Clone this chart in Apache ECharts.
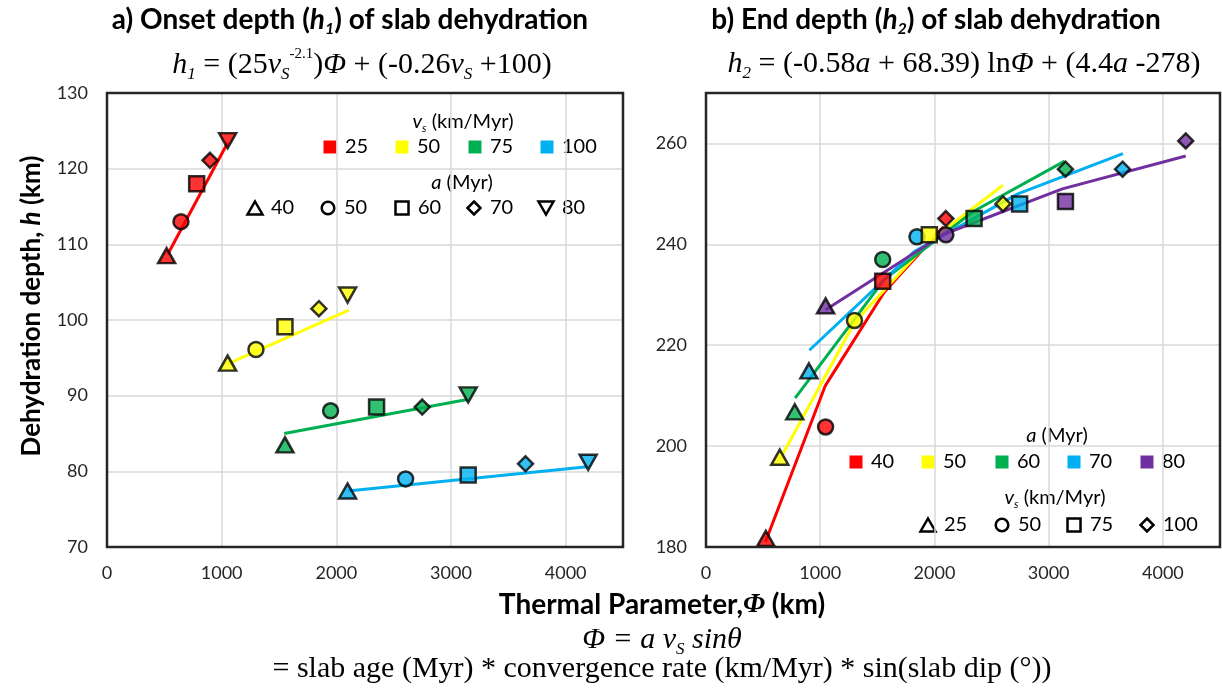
<!DOCTYPE html>
<html><head><meta charset="utf-8">
<script src="https://cdn.jsdelivr.net/npm/echarts@6/dist/echarts.min.js"></script>
<style>html,body{margin:0;padding:0;background:#fff}#c{width:1222px;height:690px}</style>
</head><body><div id="c"></div>
<script>
// ---------- data ----------
const ageValues = [40, 50, 60, 70, 80];          // slab age a (Myr)
const vsValues = [25, 50, 75, 100];              // convergence rate vs (km/Myr)
const xTicks = [0, 1000, 2000, 3000, 4000];
const onsetTicks = [70, 80, 90, 100, 110, 120, 130];
const endTicks = [180, 200, 220, 240, 260];
const vsColors = ['#FF0000', '#FFFF00', '#00B050', '#00B0F0'];
const ageColors = ['#FF0000', '#FFFF00', '#00B050', '#00B0F0', '#7030A0'];

// Panel a (onset depth h1): rows = vs (25,50,75,100), columns = a (40..80)
const onsetPhi = [
  [520, 645, 782, 898, 1052],
  [1052, 1299, 1552, 1848, 2098],
  [1552, 1950, 2351, 2749, 3150],
  [2098, 2604, 3150, 3650, 4196]
];
const onsetDepth = [
  [108.5, 113.0, 118.0, 121.1, 123.7],
  [94.3, 96.1, 99.1, 101.5, 103.3],
  [83.5, 88.0, 88.5, 88.5, 90.1],
  [77.4, 79.0, 79.5, 81.0, 81.2]
];
const onsetFitPhi = [[530, 1055], [1052, 2110], [1546, 3141], [2100, 4190]];
const onsetFitDepth = [[108.7, 123.5], [94.2, 101.3], [85.0, 89.5], [77.4, 80.6]];

// Panel b (end depth h2): rows = a (40..80), columns = vs (25,50,75,100)
const endPhi = [
  [524, 1047, 1547, 2100],
  [646, 1300, 1955, 2600],
  [777, 1547, 2347, 3147],
  [901, 1847, 2746, 3647],
  [1047, 2100, 3147, 4200]
];
const endDepth = [
  [181.7, 203.8, 232.7, 245.1],
  [197.8, 224.9, 241.9, 248.0],
  [206.8, 237.0, 245.1, 254.9],
  [214.9, 241.5, 248.0, 254.9],
  [227.8, 241.9, 248.5, 260.5]
];
const endFitPhi = [
  [520, 1045, 1560, 2080],
  [650, 1300, 1950, 2600],
  [780, 1560, 2340, 3140],
  [905, 1820, 2730, 3650],
  [1045, 2080, 3120, 4200]
];
const endFitDepth = [
  [181.0, 212.0, 230.5, 243.5],
  [197.5, 224.5, 240.5, 251.7],
  [209.5, 233.0, 246.5, 256.5],
  [219.0, 238.5, 250.0, 258.0],
  [227.0, 242.0, 251.0, 257.5]
];

// ---------- styles ----------
const SANS = 'Lato';
const SERIF = 'Liberation Serif';
const ageShapes = ['triangle', 'circle', 'rect', 'diamond', 'triangle'];
const ageRot = [0, 0, 0, 0, 180];
const ageSizes = [[17, 15], 15, 15, [15, 15], [17, 15]];
const vsShapes = ['triangle', 'circle', 'rect', 'diamond'];
const vsSizes = [[17, 15], 15, 15, [15, 15]];

const series = [];
onsetFitPhi.forEach((xs, r) => series.push({
  type: 'line', xAxisIndex: 0, yAxisIndex: 0, symbol: 'none', silent: true,
  data: xs.map((x, k) => [x, onsetFitDepth[r][k]]),
  lineStyle: { color: vsColors[r], width: 3 }, z: 2
}));
ageValues.forEach((a, c) => series.push({
  type: 'scatter', xAxisIndex: 0, yAxisIndex: 0,
  symbol: ageShapes[c], symbolRotate: ageRot[c], symbolSize: ageSizes[c],
  data: onsetPhi.map((row, r) => ({ value: [row[c], onsetDepth[r][c]], itemStyle: { color: vsColors[r] } })),
  itemStyle: { borderColor: '#000', borderWidth: 2.5 }, z: 3
}));
endFitPhi.forEach((xs, r) => series.push({
  type: 'line', xAxisIndex: 1, yAxisIndex: 1, symbol: 'none', silent: true,
  data: xs.map((x, k) => [x, endFitDepth[r][k]]),
  lineStyle: { color: ageColors[r], width: 3 }, z: 2
}));
vsValues.forEach((v, c) => series.push({
  type: 'scatter', xAxisIndex: 1, yAxisIndex: 1,
  symbol: vsShapes[c], symbolSize: vsSizes[c],
  data: endPhi.map((row, r) => ({ value: [row[c], endDepth[r][c]], itemStyle: { color: ageColors[r] } })),
  itemStyle: { borderColor: '#000', borderWidth: 2.5 }, z: 3
}));

const plain = v => String(v);
function xAxis(grid) {
  return {
    type: 'value', gridIndex: grid, min: xTicks[0], max: 4500, interval: xTicks[1] - xTicks[0],
    axisLine: { show: false }, axisTick: { show: false },
    axisLabel: { fontFamily: SANS, fontSize: 18, color: '#262626', margin: 17, showMaxLabel: false, formatter: plain },
    splitLine: { showMinLine: false, showMaxLine: false, lineStyle: { color: '#d9d9d9', width: 1.5 } }
  };
}
function yAxis(grid, ticks, max) {
  return {
    type: 'value', gridIndex: grid, min: ticks[0], max: max, interval: ticks[1] - ticks[0],
    axisLine: { show: false }, axisTick: { show: false },
    axisLabel: { fontFamily: SANS, fontSize: 18, color: '#262626', margin: 19, showMaxLabel: max === ticks[ticks.length - 1], formatter: plain },
    splitLine: { showMinLine: false, showMaxLine: false, lineStyle: { color: '#d9d9d9', width: 1.5 } }
  };
}

// ---------- legend / text graphics ----------
const serifRich = {
  n: { fontFamily: SERIF, fontSize: 30, color: '#000', lineHeight: 36 },
  i: { fontFamily: SERIF, fontSize: 30, fontStyle: 'italic', color: '#000', lineHeight: 36 },
  sub: { fontFamily: SERIF, fontSize: 17, fontStyle: 'italic', color: '#000', lineHeight: 17, verticalAlign: 'bottom' },
  sup: { fontFamily: SERIF, fontSize: 15, color: '#000', lineHeight: 15, verticalAlign: 'top' }
};
const boldRich = {
  b: { fontFamily: SANS, fontSize: 28, fontWeight: 'bold', color: '#000', lineHeight: 34 },
  bi: { fontFamily: SANS, fontSize: 28, fontWeight: 'bold', fontStyle: 'italic', color: '#000', lineHeight: 34 },
  bs: { fontFamily: SANS, fontSize: 16, fontWeight: 'bold', fontStyle: 'italic', color: '#000', lineHeight: 16, verticalAlign: 'bottom' },
  bf: { fontFamily: SERIF, fontSize: 28, fontWeight: 'bold', fontStyle: 'italic', color: '#000', lineHeight: 34 }
};
const yRich = {
  b: { fontFamily: SANS, fontSize: 26, fontWeight: 'bold', color: '#000', lineHeight: 32 },
  bi: { fontFamily: SANS, fontSize: 26, fontWeight: 'bold', fontStyle: 'italic', color: '#000', lineHeight: 32 }
};
const legRich = {
  n: { fontFamily: SANS, fontSize: 20, color: '#000', lineHeight: 24 },
  i: { fontFamily: SANS, fontSize: 20, fontStyle: 'italic', color: '#000', lineHeight: 24 },
  s: { fontFamily: SANS, fontSize: 11, fontStyle: 'italic', color: '#000', lineHeight: 11, verticalAlign: 'bottom' }
};

function txt(x, y, text, rich, align, extra) {
  return Object.assign({
    type: 'text', x: x, y: y, silent: true,
    style: { text: text, rich: rich, align: align || 'center', verticalAlign: 'middle' }
  }, extra || {});
}
const blk = { fill: '#fff', stroke: '#000', lineWidth: 2.5 };
function marker(shape, cx, cy) {
  if (shape === 'circle') return { type: 'circle', shape: { cx: cx, cy: cy, r: 6.3 }, style: blk };
  if (shape === 'rect') return { type: 'rect', shape: { x: cx - 6.5, y: cy - 6.5, width: 13, height: 13 }, style: blk };
  if (shape === 'diamond') return { type: 'polygon', shape: { points: [[cx, cy - 6.5], [cx + 6.5, cy], [cx, cy + 6.5], [cx - 6.5, cy]] }, style: blk };
  if (shape === 'down') return { type: 'polygon', shape: { points: [[cx - 7.5, cy - 6.5], [cx + 7.5, cy - 6.5], [cx, cy + 6.5]] }, style: blk };
  return { type: 'polygon', shape: { points: [[cx, cy - 6.5], [cx + 7.5, cy + 6.5], [cx - 7.5, cy + 6.5]] }, style: blk };
}
function colorBox(cx, cy, color) {
  return { type: 'rect', shape: { x: cx - 6.5, y: cy - 6.5, width: 13, height: 13 }, style: { fill: color } };
}

const g = [];
// titles
g.push(txt(350, 20, '{b|a) Onset depth (}{bi|h}{bs|1}{b|) of slab dehydration}', boldRich));
g.push(txt(936, 20, '{b|b) End depth (}{bi|h}{bs|2}{b|) of slab dehydration}', boldRich));
g.push(txt(362, 65, '{i|h}{sub|1}{n| = (25}{i|v}{sub|S}{sup|-2.1}{n|)}{i|Φ}{n| + (-0.26}{i|v}{sub|S}{n| +100)}', serifRich));
g.push(txt(964, 64, '{i|h}{sub|2}{n| = (-0.58}{i|a}{n| + 68.39) ln}{i|Φ}{n| + (4.4}{i|a}{n| -278)}', serifRich));
// axis titles
g.push(txt(32, 306, '{b|Dehydration depth, }{bi|h}{b| (km)}', yRich, 'center', { rotation: Math.PI / 2 }));
g.push(txt(662, 605, '{b|Thermal Parameter,}{bf|Φ}{b| (km)}', boldRich));
g.push(txt(662, 640, '{i|Φ = a v}{sub|S}{i| sinθ}', serifRich));
g.push(txt(662, 669, '{n|= slab age (Myr) * convergence rate (km/Myr) * sin(slab dip (°))}', serifRich));

// left legend
g.push({ type: 'rect', shape: { x: 248, y: 95, width: 373, height: 136 }, style: { fill: '#fff' }, z: 0 });
g.push(txt(463, 122, '{i|v}{s|s}{n| (km/Myr)}', legRich));
const legVsX = [330, 402, 475, 547];
vsValues.forEach((v, k) => {
  g.push(colorBox(legVsX[k], 147, vsColors[k]));
  g.push(txt(legVsX[k] + 15, 147, '{n|' + v + '}', legRich, 'left'));
});
g.push(txt(462, 183, '{i|a}{n| (Myr)}', legRich));
const legAgeX = [255, 328, 402, 474, 546];
const legAgeShape = ['tri', 'circle', 'rect', 'diamond', 'down'];
ageValues.forEach((a, k) => {
  g.push(marker(legAgeShape[k], legAgeX[k], 208));
  g.push(txt(legAgeX[k] + 16, 208, '{n|' + a + '}', legRich, 'left'));
});

// right legend
g.push({ type: 'rect', shape: { x: 842, y: 408, width: 376, height: 137 }, style: { fill: '#fff' }, z: 0 });
g.push(txt(1057, 436, '{i|a}{n| (Myr)}', legRich));
const legAX = [856, 928, 1002, 1074, 1147];
ageValues.forEach((a, k) => {
  g.push(colorBox(legAX[k], 462, ageColors[k]));
  g.push(txt(legAX[k] + 15, 462, '{n|' + a + '}', legRich, 'left'));
});
g.push(txt(1055, 498, '{i|v}{s|s}{n| (km/Myr)}', legRich));
const legVX = [928, 1002, 1074, 1147];
const legVShape = ['tri', 'circle', 'rect', 'diamond'];
vsValues.forEach((v, k) => {
  g.push(marker(legVShape[k], legVX[k], 525));
  g.push(txt(legVX[k] + 16, 525, '{n|' + v + '}', legRich, 'left'));
});

const chart = echarts.init(document.getElementById('c'), null, { renderer: 'canvas' });
chart.setOption({
  animation: false,
  backgroundColor: '#fff',
  grid: [
    { left: 107, top: 93, width: 516, height: 454, show: true, borderColor: '#262626', borderWidth: 2.5, backgroundColor: 'transparent', z: 4 },
    { left: 706, top: 93, width: 514, height: 454, show: true, borderColor: '#262626', borderWidth: 2.5, backgroundColor: 'transparent', z: 4 }
  ],
  xAxis: [xAxis(0), xAxis(1)],
  yAxis: [yAxis(0, onsetTicks, 130), yAxis(1, endTicks, 270)],
  series: series,
  graphic: { elements: g }
});
</script>
</body></html>
